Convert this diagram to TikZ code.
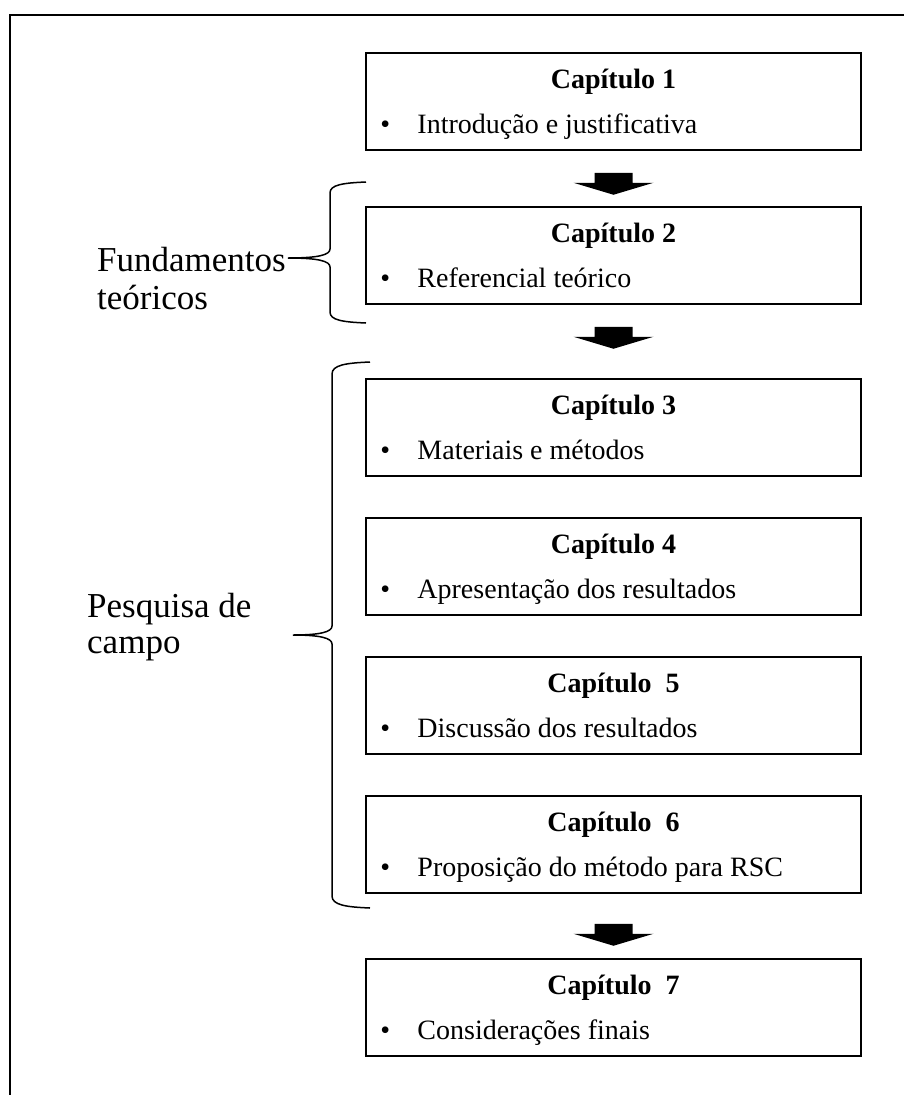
\documentclass[tikz,border=0pt]{standalone}
\usepackage{fontspec}
\setmainfont{Liberation Serif}
\usetikzlibrary{calc}
\begin{document}
\begin{tikzpicture}[x=1pt,y=-1pt,
  chapbox/.style={draw, line width=1.5pt, minimum width=495pt, minimum height=97pt, inner sep=0pt},
  chaptitle/.style={font=\fontsize{28}{32}\selectfont\bfseries, anchor=base, inner sep=0pt},
  itemtext/.style={font=\fontsize{28}{32}\selectfont, anchor=base west, inner sep=0pt},
  bulletdot/.style={font=\fontsize{28}{32}\selectfont, anchor=base, inner sep=0pt},
  grouplabel/.style={font=\fontsize{35}{38}\selectfont, anchor=base west, inner sep=0pt},
  bracestyle/.style={draw, line width=1.5pt},
  blockarrow/.pic={\fill (-19,0) -- (19,0) -- (19,10) -- (40,10) -- (0,22) -- (-40,10) -- (-19,10) -- cycle;}
]
\useasboundingbox (0,0) rectangle (904,1095);
\clip (0,0) rectangle (904,1095);
% outer frame
\draw[line width=2pt] (10,1110) -- (10,15) -- (920,15);

% chapter boxes
\node[chapbox] (b1) at (613.5,101.5) {};
\node[chapbox] (b2) at (613.5,255.5) {};
\node[chapbox] (b3) at (613.5,427.5) {};
\node[chapbox] (b4) at (613.5,566.5) {};
\node[chapbox] (b5) at (613.5,705.5) {};
\node[chapbox] (b6) at (613.5,844.5) {};
\node[chapbox] (b7) at (613.5,1007.5) {};

\foreach \b/\t/\i in {b1/{Capítulo 1}/{Introdução e justificativa},
                      b2/{Capítulo 2}/{Referencial teórico},
                      b3/{Capítulo 3}/{Materiais e métodos},
                      b4/{Capítulo 4}/{Apresentação dos resultados},
                      b5/{Capítulo\ \ 5}/{Discussão dos resultados},
                      b6/{Capítulo\ \ 6}/{Proposição do método para RSC},
                      b7/{Capítulo\ \ 7}/{Considerações finais}} {
  \node[chaptitle] (\b-title) at ($(\b.north)+(0,36)$) {\t};
  \node[bulletdot] (\b-dot) at ($(\b.north west)+(20,81)$) {•};
  \node[itemtext] (\b-item) at ($(\b.north west)+(52,81)$) {\i};
}

% block arrows
\pic at ($(b1.south)+(0,22)$) {blockarrow};
\pic at ($(b2.south)+(0,22)$) {blockarrow};
\pic at ($(b6.south)+(0,30)$) {blockarrow};

% group labels
\node[grouplabel] (f1) at (97,271) {Fundamentos};
\node[grouplabel] (f2) at (97,309) {teóricos};
\node[grouplabel] (p1) at (87,617) {Pesquisa de};
\node[grouplabel] (p2) at (87,653) {campo};

% braces
\draw[bracestyle] (366,182) .. controls (342,183) and (330,185) .. (330,193) -- (330,249)
  .. controls (330,255) and (318,258) .. (288,258)
  .. controls (318,258) and (330,261) .. (330,267) -- (330,312)
  .. controls (330,320) and (342,322) .. (366,323);
\draw[bracestyle] (370,362) .. controls (346,363) and (332,365) .. (332,374) -- (332,626)
  .. controls (332,632) and (320,635) .. (293,635)
  .. controls (320,635) and (332,638) .. (332,644) -- (332,896)
  .. controls (332,905) and (346,907) .. (370,908);
\end{tikzpicture}
\end{document}
